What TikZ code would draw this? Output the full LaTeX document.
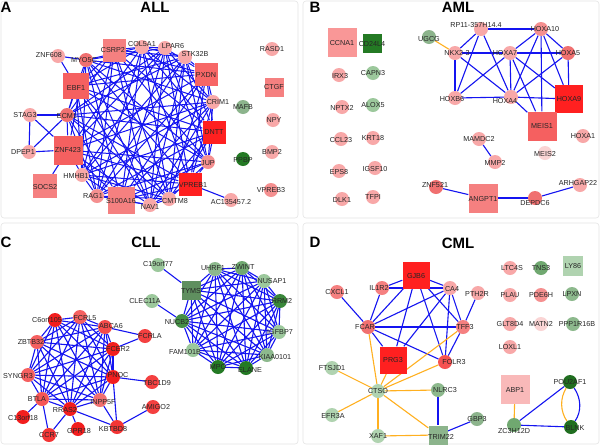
\documentclass[tikz,border=0pt]{standalone}
\usepackage{fontspec}
\setmainfont{Liberation Sans}
\usetikzlibrary{backgrounds}
\definecolor{ered}{RGB}{255,32,32}
\definecolor{cred}{RGB}{242,30,30}
\definecolor{mred}{RGB}{245,96,96}
\definecolor{sred}{RGB}{240,112,112}
\definecolor{sqp}{RGB}{245,128,128}
\definecolor{pk}{RGB}{248,168,168}
\definecolor{pk2}{RGB}{245,144,144}
\definecolor{vpk}{RGB}{250,212,212}
\definecolor{lg}{RGB}{156,200,156}
\definecolor{mg}{RGB}{112,168,112}
\definecolor{dg}{RGB}{36,122,36}
\definecolor{eblue}{RGB}{20,20,240}
\definecolor{eorange}{RGB}{255,176,32}
\tikzset{
  cnd/.style={circle,minimum size=14pt,inner sep=0pt,draw=none},
  snd/.style={rectangle,inner sep=0pt,draw=none},
  lbl/.style={font=\fontsize{7.2}{8}\selectfont,text=black!85,inner sep=0pt},
  ttl/.style={font=\fontsize{15}{16}\selectfont\bfseries,inner sep=0pt},
  be/.style={draw=eblue,line width=1.1pt},
  oe/.style={draw=eorange,line width=1.1pt},
  frame/.style={draw=black!10,line width=0.6pt,rounded corners=3pt}
}
\newcommand\gcirc[5]{\node[cnd,fill=#3] (#1) at (#2) {};\node[lbl] (#1-t) at (#4) {#5};}
\newcommand\gsq[6]{\node[snd,minimum size=#3pt,fill=#4] (#1) at (#2) {};\node[lbl] (#1-t) at (#5) {#6};}
\newcommand\clique[1]{\foreach \a [count=\i] in {#1} {\foreach \b [count=\j] in {#1} {\ifnum\j>\i\relax \draw[be] (\a) -- (\b);\fi}}}
\newcommand\sparseclique[1]{\foreach \a [count=\i] in {#1} {\foreach \b [count=\j] in {#1} {\ifnum\j>\i\relax \pgfmathtruncatemacro\rr{mod(\i+\j,3)}\ifnum\rr>0\relax \draw[be,line width=1pt] (\a) -- (\b);\fi\fi}}}
\begin{document}
\begin{tikzpicture}[x=1pt,y=-1pt]
\useasboundingbox (0,0) rectangle (600,445);
\begin{pgfonlayer}{background}
\fill[white] (0,0) rectangle (600,445);
\draw[frame] (1,1) rectangle (298,218);
\draw[frame] (303,1) rectangle (599,218);
\draw[frame] (1,223) rectangle (298,444);
\draw[frame] (303,223) rectangle (599,444);
\end{pgfonlayer}
% titles
\node[ttl] (tA) at (6,7) {A};
\node[ttl] (tALL) at (155,7) {ALL};
\node[ttl] (tB) at (315,7) {B};
\node[ttl] (tAML) at (458,7) {AML};
\node[ttl] (tC) at (6,242) {C};
\node[ttl] (tCLL) at (146,242) {CLL};
\node[ttl] (tD) at (315,242) {D};
\node[ttl] (tCML) at (458,243) {CML};
% ---------- Panel A ----------
\gcirc{ZNF608}{58,56}{pk}{49,55}{ZNF608}
\gcirc{MYO5C}{86,60}{sred}{84,60}{MYO5C}
\gsq{CSRP2}{114,50}{23}{sqp}{113,50}{CSRP2}
\gcirc{COL5A1}{142,47}{pk}{142,44}{COL5A1}
\gcirc{LPAR6}{165,48}{pk}{173,46}{LPAR6}
\gcirc{STK32B}{185,57}{pk}{195,54}{STK32B}
\gsq{PXDN}{206,74}{23}{sqp!80!red}{206,75}{PXDN}
\gcirc{CRIM1}{213,102}{pk}{218,102}{CRIM1}
\gcirc{MAFB}{243,107}{lg!90!black}{243,107}{MAFB}
\gcirc{RASD1}{272,49}{pk}{272,49}{RASD1}
\gsq{CTGF}{274,87}{19}{sqp}{274,87}{CTGF}
\gcirc{NPY}{273,120}{pk}{274,120}{NPY}
\gsq{EBF1}{76,86}{26}{mred}{76,88}{EBF1}
\gcirc{ECM1}{67,115}{sred}{67,116}{ECM1}
\gcirc{STAG3}{30,115}{pk}{25,115}{STAG3}
\gcirc{DPEP1}{29,152}{pk}{23,152}{DPEP1}
\gsq{ZNF423}{68,150}{29}{mred}{68,150}{ZNF423}
\gsq{SOCS2}{45,186}{24}{sqp}{45,187}{SOCS2}
\gcirc{HMHB1}{82,175}{pk}{76,176}{HMHB1}
\gcirc{RAG1}{97,196}{pk2}{93,196}{RAG1}
\gsq{S100A16}{121,200}{27}{sqp}{121,201}{S100A16}
\gcirc{NAV1}{150,205}{pk}{150,207}{NAV1}
\gsq{DNTT}{214,132}{23}{ered}{214,132}{DNTT}
\gcirc{JUP}{208,162}{pk2}{208,163}{JUP}
\gsq{VPREB1}{190,184}{23}{ered}{193,185}{VPREB1}
\gcirc{CMTM8}{169,199}{pk}{175,201}{CMTM8}
\gcirc{AC135}{231,200}{pk}{231,202}{AC135457.2}
\gcirc{PPBP}{243,159}{dg}{243,160}{PPBP}
\gcirc{BMP2}{272,152}{pk}{272,152}{BMP2}
\gcirc{VPREB3}{271,190}{pk2}{271,190}{VPREB3}
% ---------- Panel B ----------
\gsq{CCNA1}{342,42}{29}{pk!90!red}{342,43}{CCNA1}
\gsq{CD24L4}{372,43}{19}{dg}{372,44}{CD24L4}
\gcirc{IRX3}{339,75}{pk}{340,76}{IRX3}
\gcirc{CAPN3}{373,73}{lg}{373,73}{CAPN3}
\gcirc{NPTX2}{342,107}{pk}{342,108}{NPTX2}
\gcirc{ALOX5}{373,105}{lg}{373,105}{ALOX5}
\gcirc{CCL23}{341,139}{pk}{341,140}{CCL23}
\gcirc{KRT18}{373,138}{pk}{373,138}{KRT18}
\gcirc{EPS8}{339,171}{pk}{339,172}{EPS8}
\gcirc{IGSF10}{375,168}{pk}{375,169}{IGSF10}
\gcirc{DLK1}{342,199}{pk}{342,200}{DLK1}
\gcirc{TFPI}{373,197}{pk}{373,197}{TFPI}
\gcirc{UGCG}{429,37}{lg!90!black}{429,39}{UGCG}
\gcirc{RP11}{481,29}{pk}{476,25}{RP11-357H14.4}
\gcirc{HOXA10}{541,29}{pk2}{545,29}{HOXA10}
\gcirc{NKX23}{455,53}{pk}{457,53}{NKX2-3}
\gcirc{HOXA7}{510,53}{pk}{505,53}{HOXA7}
\gcirc{HOXA5}{568,53}{sred}{568,53}{HOXA5}
\gcirc{HOXB6}{455,98}{pk}{452,99}{HOXB6}
\gcirc{HOXA4}{511,97}{pk}{505,101}{HOXA4}
\gsq{HOXA9}{569,99}{28}{ered}{569,99}{HOXA9}
\gsq{MEIS1}{542,126}{29}{mred}{542,126}{MEIS1}
\gcirc{HOXA1}{583,136}{pk}{583,136}{HOXA1}
\gcirc{MAMDC2}{479,139}{pk}{479,139}{MAMDC2}
\gcirc{MMP2}{495,162}{pk}{495,163}{MMP2}
\gcirc{MEIS2}{545,153}{vpk}{545,154}{MEIS2}
\gcirc{ZNF521}{436,187}{sred}{435,185}{ZNF521}
\gsq{ANGPT1}{483,198}{29}{sqp}{483,199}{ANGPT1}
\gcirc{DEPDC6}{535,198}{sred}{535,203}{DEPDC6}
\gcirc{ARHGAP22}{580,185}{pk}{578,183}{ARHGAP22}
% ---------- Panel C ----------
\gcirc{C6orf105}{55,320}{cred}{47,320}{C6orf105}
\gcirc{FCRL5}{80,317}{mred}{85,318}{FCRL5}
\gcirc{ABCA6}{105,327}{cred!80!white}{111,326}{ABCA6}
\gcirc{ZBTB32}{37,342}{mred}{31,342}{ZBTB32}
\gcirc{FCER2}{113,349}{cred}{118,349}{FCER2}
\gcirc{FCRLA}{145,336}{cred!85!white}{150,336}{FCRLA}
\gcirc{SYNGR3}{28,375}{mred}{18,376}{SYNGR3}
\gcirc{PNOC}{113,377}{cred}{118,375}{PNOC}
\gcirc{TBC1D9}{152,382}{cred!85!white}{157,383}{TBC1D9}
\gcirc{BTLA}{42,399}{cred!75!white}{37,399}{BTLA}
\gcirc{INPP5F}{100,400}{sred}{103,402}{INPP5F}
\gcirc{RRAS2}{70,409}{cred}{65,410}{RRAS2}
\gcirc{AMIGO2}{153,407}{cred!85!white}{156,407}{AMIGO2}
\gcirc{C13orf18}{23,417}{cred}{23,418}{C13orf18}
\gcirc{GPR18}{78,429}{cred}{79,431}{GPR18}
\gcirc{KBTBD8}{117,427}{cred!90!white}{113,429}{KBTBD8}
\gcirc{CCR7}{49,435}{cred!90!white}{49,435}{CCR7}
\gcirc{C19orf77}{158,265}{lg}{158,264}{C19orf77}
\gsq{TYMS}{191,290}{19}{mg!85!black}{191,291}{TYMS}
\gcirc{UHRF1}{215,269}{mg!80!white}{213,268}{UHRF1}
\gcirc{ZWINT}{242,268}{mg}{243,267}{ZWINT}
\gcirc{NUSAP1}{264,281}{lg}{272,281}{NUSAP1}
\gcirc{RRM2}{280,301}{dg!90!white}{282,301}{RRM2}
\gcirc{IGFBP7}{279,332}{lg}{280,332}{IGFBP7}
\gcirc{KIAA0101}{267,355}{mg!80!white}{275,357}{KIAA0101}
\gcirc{ELANE}{246,368}{dg}{250,370}{ELANE}
\gcirc{MPO}{218,367}{dg}{218,367}{MPO}
\gcirc{FAM101B}{193,350}{lg}{185,352}{FAM101B}
\gcirc{NUCB2}{182,321}{dg!85!white}{177,322}{NUCB2}
\gcirc{CLEC11A}{152,301}{lg}{145,301}{CLEC11A}
% ---------- Panel D ----------
\gsq{GJB6}{416,275}{27}{ered}{416,276}{GJB6}
\gcirc{IL1R2}{382,288}{sqp}{379,288}{IL1R2}
\gcirc{CXCL1}{337,292}{sqp}{337,292}{CXCL1}
\gcirc{FCAR}{368,327}{sred}{365,327}{FCAR}
\gsq{PRG3}{393,360}{27}{ered}{393,360}{PRG3}
\gcirc{FOLR3}{445,362}{mred!85!red}{454,362}{FOLR3}
\gcirc{CA4}{450,288}{pk}{452,289}{CA4}
\gcirc{PTH2R}{478,293}{pk}{477,294}{PTH2R}
\gcirc{TFF3}{463,327}{sqp}{465,327}{TFF3}
\gcirc{FTSJD1}{332,368}{lg!80!white}{332,368}{FTSJD1}
\gcirc{CTSO}{378,391}{lg!80!white}{378,391}{CTSO}
\gcirc{NLRC3}{438,390}{mg!80!white}{445,390}{NLRC3}
\gcirc{EFR3A}{332,415}{lg!80!white}{333,416}{EFR3A}
\gcirc{XAF1}{378,436}{lg!80!white}{378,436}{XAF1}
\gsq{TRIM22}{438,435}{19}{lg!90!black}{441,437}{TRIM22}
\gcirc{GBP3}{477,419}{lg!90!black}{477,419}{GBP3}
\gcirc{LTC4S}{510,268}{pk}{512,268}{LTC4S}
\gcirc{TNS3}{541,268}{mg}{541,268}{TNS3}
\gsq{LY86}{573,266}{20}{lg!80!white}{573,266}{LY86}
\gcirc{PLAU}{510,295}{pk}{510,295}{PLAU}
\gcirc{PDE6H}{541,295}{pk2}{541,295}{PDE6H}
\gcirc{LPXN}{572,294}{mg!80!white}{572,294}{LPXN}
\gcirc{GLT8D4}{510,324}{pk}{510,324}{GLT8D4}
\gcirc{MATN2}{541,324}{vpk}{541,324}{MATN2}
\gcirc{PPP1R16B}{573,324}{mg!80!white}{577,324}{PPP1R16B}
\gcirc{LOXL1}{510,347}{pk}{510,347}{LOXL1}
\gsq{ABP1}{515,389}{29}{pk!80!white}{515,390}{ABP1}
\gcirc{ZC3H12D}{514,425}{mg}{514,431}{ZC3H12D}
\gcirc{POU2AF1}{570,382}{dg!90!black}{570,382}{POU2AF1}
\gcirc{BLNK}{571,427}{dg!90!black}{575,428}{BLNK}
% ---------- Edges ----------
\begin{pgfonlayer}{background}
% A
\sparseclique{MYO5C,CSRP2,COL5A1,LPAR6,STK32B,PXDN,CRIM1,DNTT,JUP,VPREB1,CMTM8,NAV1,S100A16,RAG1,HMHB1,ZNF423,EBF1,ECM1}
\draw[be] (ZNF608) -- (MYO5C);
\draw[be] (ZNF608) -- (EBF1);
\draw[be] (STAG3) -- (ECM1);
\draw[be] (STAG3) -- (DPEP1);
\draw[be] (STAG3) -- (ZNF423);
\draw[be] (DPEP1) -- (ECM1);
\draw[be] (DPEP1) -- (ZNF423);
\draw[be] (SOCS2) -- (ZNF423);
\draw[be] (VPREB1) -- (AC135);
% B
\draw[oe] (UGCG) -- (NKX23);
\foreach \p/\q in {RP11/HOXA10,RP11/NKX23,RP11/HOXB6,RP11/HOXA4,NKX23/HOXB6,NKX23/HOXA7,NKX23/HOXA4,HOXB6/HOXA4,HOXB6/HOXA7,HOXA7/HOXA10,HOXA7/HOXA5,HOXA7/HOXA4,HOXA7/HOXA9,HOXA7/MEIS1,HOXA10/HOXA5,HOXA10/HOXA4,HOXA10/HOXA9,HOXA10/MEIS1,HOXA5/HOXA9,HOXA5/HOXA4,HOXA4/HOXA9,HOXA4/MEIS1,HOXA9/MEIS1,ZNF521/ANGPT1,ANGPT1/DEPDC6,DEPDC6/ARHGAP22,MAMDC2/MMP2}
  {\draw[be] (\p) -- (\q);}
% C
\clique{C6orf105,FCRL5,ABCA6,ZBTB32,FCER2,SYNGR3,PNOC,BTLA,INPP5F,RRAS2}
\foreach \p/\q in {KBTBD8/PNOC,KBTBD8/INPP5F,KBTBD8/RRAS2,ABCA6/FCRLA,FCER2/FCRLA,PNOC/TBC1D9,KBTBD8/AMIGO2,BTLA/C13orf18,BTLA/CCR7,RRAS2/CCR7,RRAS2/GPR18}
  {\draw[be] (\p) -- (\q);}
\clique{TYMS,UHRF1,ZWINT,NUSAP1,RRM2,IGFBP7,KIAA0101,ELANE,MPO,FAM101B,NUCB2}
\draw[be] (C19orf77) -- (TYMS);
\draw[be] (CLEC11A) -- (NUCB2);
% D
\foreach \p/\q in {GJB6/IL1R2,GJB6/CA4,GJB6/FCAR,GJB6/PRG3,GJB6/FOLR3,GJB6/TFF3,IL1R2/CA4,IL1R2/FCAR,CXCL1/FCAR,FCAR/CA4,FCAR/TFF3,FCAR/PRG3,FCAR/FOLR3,CA4/PRG3,CA4/TFF3,CA4/FOLR3,PTH2R/TFF3,TFF3/FOLR3,NLRC3/TRIM22,TRIM22/GBP3,ZC3H12D/POU2AF1,ZC3H12D/BLNK}
  {\draw[be] (\p) -- (\q);}
\foreach \p/\q in {CTSO/FTSJD1,CTSO/EFR3A,CTSO/XAF1,CTSO/TRIM22,CTSO/NLRC3,CTSO/FCAR,CTSO/PRG3,CTSO/FOLR3,CTSO/TFF3,XAF1/TRIM22,ABP1/ZC3H12D}
  {\draw[oe] (\p) -- (\q);}
\draw[oe] (POU2AF1) .. controls (560,398) and (560,411) .. (BLNK);
\draw[be] (POU2AF1) .. controls (581,398) and (582,411) .. (BLNK);
\end{pgfonlayer}
\end{tikzpicture}
\end{document}
